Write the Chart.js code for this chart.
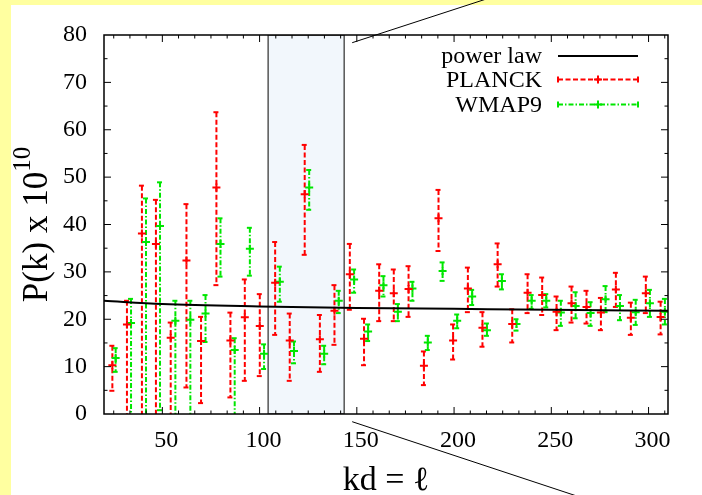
<!DOCTYPE html>
<html>
<head>
<meta charset="utf-8">
<script src="https://cdn.jsdelivr.net/npm/chart.js@4.4.1/dist/chart.umd.min.js"></script>
<style>
  html, body { margin: 0; padding: 0; background: #fff; }
</style>
</head>
<body>
<canvas id="myChart" width="702" height="495"></canvas>
<script>
// PLANCK points: multipole, power, upper and lower end of the error bar
const planckK  = [24.3, 31.8, 39.5, 46.7, 54.3, 62.4, 69.9, 77.8, 85.0, 92.4, 100.1, 108.0, 115.5, 123.2, 131.0, 138.5, 146.4, 153.7, 161.5, 169.0, 176.6, 184.5, 192.0, 199.5, 207.1, 214.6, 222.4, 229.9, 237.8, 245.3, 252.7, 260.4, 268.1, 275.5, 283.2, 290.9, 298.6, 306.2]
const planckP  = [10.3, 18.9, 38.1, 35.9, 16.1, 32.4, 15.4, 47.8, 15.5, 20.4, 18.6, 27.7, 15.5, 46.4, 15.8, 21.8, 29.5, 15.9, 26.0, 25.5, 26.4, 10.2, 41.3, 15.5, 26.5, 18.2, 31.6, 19.0, 25.6, 25.1, 21.6, 23.4, 22.6, 21.4, 26.3, 20.3, 25.5, 20.5]
const planckHi = [14.4, 23.9, 48.2, 45.2, 19.3, 44.3, 20.5, 63.7, 21.4, 28.4, 25.3, 36.3, 21.2, 56.8, 20.9, 27.2, 35.9, 20.1, 31.6, 30.5, 31.2, 13.2, 47.3, 18.9, 30.9, 21.5, 36.0, 22.1, 29.5, 28.8, 24.8, 26.9, 26.0, 24.5, 29.8, 23.5, 29.0, 23.7]
const planckLo = [4.9, -5, -5, -5, -5, 5.6, 2.3, 27.2, 3.5, 7.0, 8.0, 16.7, 7.0, 33.6, 8.9, 14.6, 22.0, 10.3, 19.6, 19.6, 20.5, 6.1, 34.4, 11.5, 21.5, 14.2, 26.9, 15.1, 21.3, 20.9, 17.7, 19.3, 19.1, 17.7, 22.6, 16.7, 21.3, 16.8]

// WMAP9 points
const wmapK  = [26.0, 33.9, 41.6, 48.8, 56.7, 64.4, 72.2, 79.9, 87.2, 95.0, 102.3, 110.4, 117.7, 125.5, 133.2, 140.7, 148.6, 155.8, 163.7, 171.1, 178.6, 186.5, 194.1, 201.6, 209.3, 216.9, 224.6, 232.1, 239.9, 247.4, 254.9, 262.5, 270.2, 277.9, 285.3, 293.4, 300.7, 308.4]
const wmapP  = [11.8, 19.2, 36.3, 39.7, 19.7, 19.9, 21.2, 35.9, 13.5, 34.9, 12.7, 27.9, 13.3, 47.8, 12.7, 23.9, 28.4, 17.4, 27.2, 21.6, 26.5, 15.1, 30.2, 19.7, 24.8, 17.7, 28.1, 19.0, 23.9, 23.9, 21.4, 22.8, 21.3, 24.2, 22.8, 21.5, 23.4, 21.6]
const wmapHi = [13.9, 24.3, 45.5, 48.9, 23.9, 23.9, 25.1, 41.3, 16.0, 39.3, 14.7, 31.1, 15.3, 51.5, 14.4, 26.0, 30.5, 18.9, 29.1, 23.2, 27.9, 16.5, 32.0, 21.0, 26.2, 19.1, 29.5, 20.0, 25.1, 25.3, 23.9, 25.7, 23.6, 27.0, 25.1, 24.1, 26.2, 24.3]
const wmapLo = [8.9, -5, -5, 0.8, -5, -5, 15.2, 29.0, -5, 29.2, 9.5, 23.7, 10.7, 43.1, 10.5, 21.3, 25.6, 15.4, 24.8, 19.6, 23.9, 13.5, 28.1, 18.1, 23.0, 16.5, 26.3, 17.6, 22.2, 22.5, 18.6, 20.2, 18.6, 21.5, 19.8, 18.8, 20.5, 18.9]

// power law curve
const lawK = [20, 50, 100, 150, 200, 250, 310]
const lawP = [23.9, 23.2, 22.7, 22.4, 22.2, 22.0, 21.8]

// highlighted band and axis ticks
const band = [104.4, 143.5]
const xLabels = [50, 100, 150, 200, 250, 300]
const xMinor = [25, 33.33, 41.67, 50, 58.33, 66.67, 75, 83.33, 91.67, 100, 108.33, 116.67, 125, 133.33, 141.67, 150, 158.33, 166.67, 175, 183.33, 191.67, 200, 208.33, 216.67, 225, 233.33, 241.67, 250, 258.33, 266.67, 275, 283.33, 291.67, 300, 308.33]
const yMinor = [5, 10, 15, 20, 25, 30, 35, 40, 45, 50, 55, 60, 65, 70, 75]

const serif = '"Liberation Serif", "DejaVu Serif", serif'
const RED = '#ff0000'
const GREEN = '#00e600'

const pts = (xs, ys) => xs.map((x, i) => ({x: x, y: ys[i]}))

function errBars(c, xs, ys, lo, hi, color, dash) {
  c.strokeStyle = color
  c.lineWidth = 2
  c.setLineDash(dash)
  for (let i = 0; i < xs.length; i++) {
    const px = xs[i], t = hi[i], b = lo[i]
    c.beginPath(); c.moveTo(px, t); c.lineTo(px, b); c.stroke()
    c.beginPath(); c.moveTo(px - 3, t); c.lineTo(px + 3, t); c.stroke()
    c.beginPath(); c.moveTo(px - 3, b); c.lineTo(px + 3, b); c.stroke()
  }
  c.setLineDash([])
}

const decor = {
  id: 'decor',
  beforeDraw(chart) {
    const c = chart.ctx
    c.save()
    c.fillStyle = '#ffffff'
    c.fillRect(0, 0, chart.width, chart.height)
    c.fillStyle = '#ffffa0'
    c.fillRect(0, 0, chart.width, 5)
    c.fillRect(0, 0, 11, chart.height)
    c.restore()
  },
  beforeDatasetsDraw(chart) {
    const c = chart.ctx, xs = chart.scales.x, ys = chart.scales.y, a = chart.chartArea
    c.save()
    c.beginPath(); c.rect(a.left, a.top, a.right - a.left, a.bottom - a.top); c.clip()
    // shaded band
    const x0 = xs.getPixelForValue(band[0]), x1 = xs.getPixelForValue(band[1])
    c.fillStyle = '#f2f7fc'
    c.fillRect(x0, a.top, x1 - x0, a.bottom - a.top)
    c.strokeStyle = '#555'
    c.lineWidth = 1.5
    c.strokeRect(x0, a.top, x1 - x0, a.bottom - a.top)
    // error bars
    const px = k => k.map(v => xs.getPixelForValue(v))
    const py = k => k.map(v => ys.getPixelForValue(v))
    errBars(c, px(planckK), py(planckP), py(planckLo), py(planckHi), RED, [5, 2.5])
    errBars(c, px(wmapK), py(wmapP), py(wmapLo), py(wmapHi), GREEN, [5, 2, 1.5, 2])
    c.restore()
  },
  afterDraw(chart) {
    const c = chart.ctx, xs = chart.scales.x, ys = chart.scales.y, a = chart.chartArea
    c.save()
    // frame
    c.strokeStyle = '#000'
    c.lineWidth = 1.5
    c.strokeRect(a.left, a.top, a.right - a.left, a.bottom - a.top)
    c.lineWidth = 1
    c.beginPath()
    xMinor.forEach(v => {
      const p = xs.getPixelForValue(v)
      const len = xLabels.includes(Math.round(v)) && Math.abs(v - Math.round(v)) < 0.01 ? 7 : 3.5
      c.moveTo(p, a.bottom); c.lineTo(p, a.bottom - len)
      c.moveTo(p, a.top); c.lineTo(p, a.top + len)
    })
    yMinor.forEach(v => {
      const p = ys.getPixelForValue(v)
      const len = v % 10 === 0 ? 7 : 3.5
      c.moveTo(a.left, p); c.lineTo(a.left + len, p)
      c.moveTo(a.right, p); c.lineTo(a.right - len, p)
    })
    c.stroke()

    // zoom lines from the band
    const bx = xs.getPixelForValue(band[1]) + 8
    c.lineWidth = 1
    c.beginPath()
    c.moveTo(bx, a.top + 7.7); c.lineTo(bx + 131 * 1.1, a.top + 7.7 - 42.7 * 1.1)
    c.moveTo(bx, a.bottom + 7.7); c.lineTo(bx + 219.4 * 1.1, a.bottom + 7.7 + 72.6 * 1.1)
    c.stroke()

    // legend
    c.font = '24px ' + serif
    c.fillStyle = '#000'
    c.textAlign = 'right'
    c.textBaseline = 'middle'
    const rows = [
      {t: 'power law', y: 56, color: '#000', dash: []},
      {t: 'PLANCK', y: 79.5, color: RED, dash: [5, 2.5], bar: true},
      {t: 'WMAP9', y: 104.5, color: GREEN, dash: [5, 2, 1.5, 2], bar: true}
    ]
    rows.forEach(r => {
      c.fillStyle = '#000'
      c.fillText(r.t, 542, r.y + 1)
      c.strokeStyle = r.color
      c.lineWidth = 2
      c.setLineDash(r.dash)
      c.beginPath(); c.moveTo(558, r.y); c.lineTo(638, r.y); c.stroke()
      c.setLineDash([])
      if (r.bar) {
        c.beginPath()
        c.moveTo(558, r.y - 3); c.lineTo(558, r.y + 3)
        c.moveTo(638, r.y - 3); c.lineTo(638, r.y + 3)
        c.moveTo(594, r.y); c.lineTo(602, r.y)
        c.moveTo(598, r.y - 4); c.lineTo(598, r.y + 4)
        c.stroke()
      }
    })

    // axis titles
    c.fillStyle = '#000'
    c.textAlign = 'center'
    c.textBaseline = 'alphabetic'
    c.font = '34px ' + serif
    c.fillText('kd = \u2113', (a.left + a.right) / 2, 490)

    c.translate(47, (a.top + a.bottom) / 2)
    c.rotate(-Math.PI / 2)
    c.textAlign = 'left'
    c.font = '35px ' + serif
    const main = 'P(k) x 10'
    const w1 = c.measureText(main).width
    c.font = '25px ' + serif
    const w2 = c.measureText('10').width
    const start = -(w1 + w2) / 2
    c.font = '35px ' + serif
    c.fillText(main, start, 0)
    c.font = '25px ' + serif
    c.fillText('10', start + w1, -17)
    c.restore()
  }
}

new Chart(document.getElementById('myChart'), {
  type: 'scatter',
  data: {
    datasets: [
      {
        label: 'power law',
        data: pts(lawK, lawP),
        showLine: true,
        borderColor: '#000',
        borderWidth: 2,
        pointRadius: 0,
        cubicInterpolationMode: 'monotone'
      },
      {
        label: 'PLANCK',
        data: pts(planckK, planckP),
        pointStyle: 'cross',
        pointRadius: 4,
        borderColor: RED,
        borderWidth: 2
      },
      {
        label: 'WMAP9',
        data: pts(wmapK, wmapP),
        pointStyle: 'cross',
        pointRadius: 4,
        borderColor: GREEN,
        borderWidth: 2
      }
    ]
  },
  options: {
    responsive: false,
    animation: false,
    devicePixelRatio: 1,
    layout: { padding: { top: 35, right: 34, left: 0, bottom: 0 } },
    plugins: { legend: { display: false }, tooltip: { enabled: false } },
    scales: {
      x: {
        type: 'linear',
        min: 20,
        max: 310,
        afterBuildTicks: s => { s.ticks = xLabels.map(v => ({value: v})) },
        afterFit: s => { s.height = 81 },
        grid: { display: false, drawTicks: false },
        border: { display: false },
        ticks: { color: '#000', font: { family: serif, size: 24 }, padding: 12, labelOffset: 4, maxRotation: 0 }
      },
      y: {
        min: 0,
        max: 80,
        afterFit: s => { s.width = 104 },
        grid: { display: false, drawTicks: false },
        border: { display: false },
        ticks: { stepSize: 10, color: '#000', font: { family: serif, size: 24 }, padding: 17 }
      }
    }
  },
  plugins: [decor]
});
</script>
</body>
</html>
